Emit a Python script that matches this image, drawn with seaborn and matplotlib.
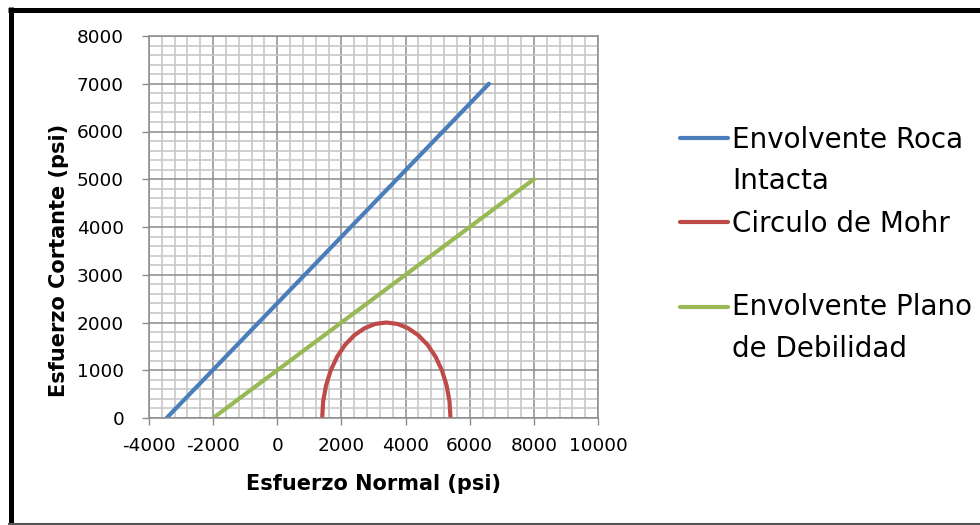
import matplotlib
matplotlib.use("Agg")
import matplotlib.pyplot as plt
from matplotlib.lines import Line2D
from matplotlib.ticker import MultipleLocator
import seaborn as sns
import pandas as pd

# ---- data ----
roca_x = [-3450, 6600]
roca_y = [0, 7000]
plano_x = [-2000, 8000]
plano_y = [0, 5000]
mohr_x = [1400, 1430, 1521, 1668, 1868, 2114, 2400, 2716, 3053, 3400,
          3747, 4084, 4400, 4686, 4932, 5132, 5279, 5370, 5400]
mohr_y = [0, 347, 684, 1000, 1286, 1532, 1732, 1879, 1970, 2000,
          1970, 1879, 1732, 1532, 1286, 1000, 684, 347, 0]
labels = ["Envolvente Roca\nIntacta", "Circulo de Mohr", "Envolvente Plano\nde Debilidad"]
x_ticks = [-4000, -2000, 0, 2000, 4000, 6000, 8000, 10000]
y_ticks = [0, 1000, 2000, 3000, 4000, 5000, 6000, 7000, 8000]
xlabel = "Esfuerzo Normal (psi)"
ylabel = "Esfuerzo Cortante (psi)"

colors = ["#4A7EBB", "#BE4B48", "#98B954"]

sns.set_style("white")
plt.rcParams["font.family"] = ["DejaVu Sans"]

fig = plt.figure(figsize=(9.8, 5.25), dpi=100)
ax = fig.add_axes([149/980, 1-418/525, (598-149)/980, (418-36)/525])

df_r = pd.DataFrame({"x": roca_x, "y": roca_y})
df_m = pd.DataFrame({"x": mohr_x, "y": mohr_y})
df_p = pd.DataFrame({"x": plano_x, "y": plano_y})
kw = dict(x="x", y="y", ax=ax, sort=False, estimator=None, legend=False,
          linewidth=3.0, solid_capstyle="round")
sns.lineplot(data=df_r, color=colors[0], **kw)
sns.lineplot(data=df_m, color=colors[1], **kw)
sns.lineplot(data=df_p, color=colors[2], **kw)

ax.set_xlim(x_ticks[0], x_ticks[-1])
ax.set_ylim(y_ticks[0], y_ticks[-1])
ax.set_xticks(x_ticks)
ax.set_yticks(y_ticks)
ax.set_xticklabels([str(v) for v in x_ticks])
ax.set_yticklabels([str(v) for v in y_ticks])
ax.xaxis.set_minor_locator(MultipleLocator(400))
ax.yaxis.set_minor_locator(MultipleLocator(200))
ax.grid(which="minor", color="#c8c8c8", linewidth=1.2)
ax.grid(which="major", color="#8c8c8c", linewidth=1.1)
ax.set_axisbelow(True)
for s in ax.spines.values():
    s.set_color("#8c8c8c")
    s.set_linewidth(1.1)
ax.tick_params(axis="x", which="major", length=5, width=1, color="#8c8c8c",
               direction="out", pad=9, labelsize=13.3, labelcolor="black", bottom=True)
ax.tick_params(axis="y", which="major", length=5, width=1, color="#8c8c8c",
               direction="out", pad=13, labelsize=13.3, labelcolor="black", left=True)
ax.tick_params(which="minor", length=0)

ax.set_xlabel(xlabel, fontsize=15, fontweight="bold", color="black")
ax.set_ylabel(ylabel, fontsize=15, fontweight="bold", color="black")
ax.xaxis.set_label_coords(0.5, -(474-418)/382)
ax.yaxis.set_label_coords((69-149)/449, (418-260)/382)

# legend drawn at figure level
def fy(px):
    return 1 - px/525

handle_rows = [138, 222, 307]
text_rows = [[148, 189], [232], [315, 357]]
for c, lab, hy, trows in zip(colors, labels, handle_rows, text_rows):
    fig.add_artist(Line2D([680/980, 728/980], [fy(hy), fy(hy)], color=c,
                          linewidth=3.0, solid_capstyle="round",
                          transform=fig.transFigure))
    for line, ty in zip(lab.split("\n"), trows):
        fig.text(732/980, fy(ty), line, fontsize=20, va="baseline", ha="left",
                 color="black")

# outer frame
fig.add_artist(Line2D([10.5/980, 10.5/980], [fy(7), fy(525)], color="black",
                      linewidth=3.6, solid_capstyle="butt", transform=fig.transFigure))
fig.add_artist(Line2D([8/980, 1.0], [fy(9.5), fy(9.5)], color="black",
                      linewidth=3.6, solid_capstyle="butt", transform=fig.transFigure))
fig.add_artist(Line2D([8/980, 1.0], [fy(524), fy(524)], color="#555555",
                      linewidth=1.5, solid_capstyle="butt", transform=fig.transFigure))

fig.savefig("out.png", dpi=100)
